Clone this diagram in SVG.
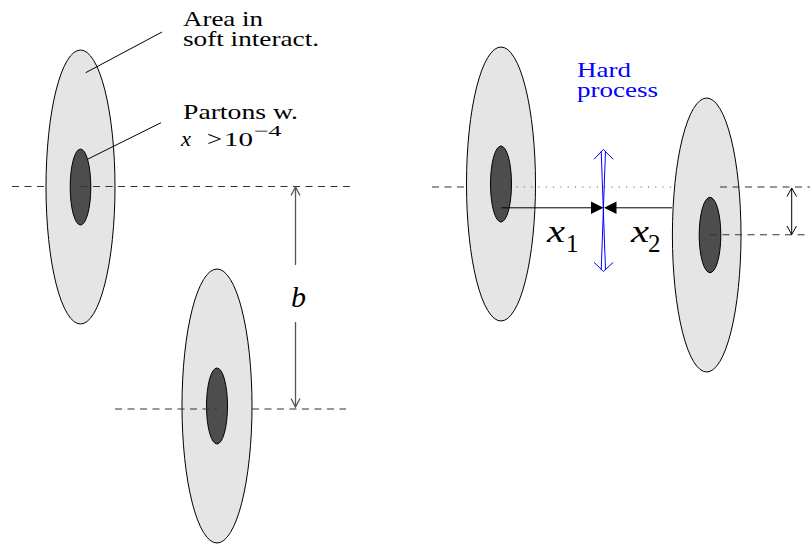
<svg xmlns="http://www.w3.org/2000/svg" width="810" height="544" viewBox="0 0 810 544">
<style>
.outer{fill:#e5e5e5;stroke:#000;stroke-width:1}
.inner{fill:#4d4d4d;stroke:#000;stroke-width:1}
.dash{stroke:#333;stroke-width:1.1;stroke-dasharray:7 5.5;fill:none}
.dot{stroke:#555;stroke-width:1;stroke-dasharray:1 6.3;fill:none}
.lead{stroke:#000;stroke-width:1;fill:none}
text{font-family:"Liberation Serif","Times New Roman",Times,serif}
.it{font-style:italic}
.blue{fill:#0000ff}
</style>
<rect width="810" height="544" fill="#fff"/>

<g id="proton-left-top">
  <line class="dash" x1="12" y1="186.5" x2="47" y2="186.5"/>
  <ellipse class="outer" cx="80.5" cy="187" rx="34.5" ry="137"/>
  <ellipse class="inner" cx="80.5" cy="187" rx="10.3" ry="38"/>
  <line class="dash" x1="80.5" y1="186.5" x2="350" y2="186.5"/>
</g>

<g id="proton-left-bottom">
  <ellipse class="outer" cx="217" cy="406" rx="35" ry="137"/>
  <ellipse class="inner" cx="217" cy="406" rx="10.5" ry="38"/>
  <line class="dash" x1="115" y1="409" x2="217" y2="409"/>
  <line class="dash" x1="252" y1="409" x2="346" y2="409"/>
</g>

<g id="proton-right-1">
  <line class="dash" x1="432" y1="187" x2="467" y2="187"/>
  <ellipse class="outer" cx="501" cy="184" rx="34.5" ry="137"/>
  <ellipse class="inner" cx="501" cy="184" rx="10.5" ry="38"/>
  <line class="dot" x1="502" y1="187" x2="672" y2="187"/>
</g>

<g id="proton-right-2">
  <ellipse class="outer" cx="706.7" cy="235" rx="34.3" ry="137"/>
  <ellipse class="inner" cx="710" cy="235" rx="10.8" ry="37.7"/>
  <line class="dash" x1="720" y1="187" x2="810" y2="187"/>
  <line class="dash" x1="710" y1="234.7" x2="810" y2="234.7"/>
</g>

<g id="labels" fill="#000">
  <text x="183" y="26" font-size="21" textLength="80" lengthAdjust="spacingAndGlyphs">Area in</text>
  <text x="183" y="46" font-size="21" textLength="136" lengthAdjust="spacingAndGlyphs">soft interact.</text>
  <text x="183" y="119" font-size="21" textLength="115" lengthAdjust="spacingAndGlyphs">Partons w.</text>
  <text class="it" x="181" y="146" font-size="22" textLength="10" lengthAdjust="spacingAndGlyphs">x</text>
  <text x="207" y="146" font-size="21" textLength="15" lengthAdjust="spacingAndGlyphs">&gt;</text>
  <text x="224" y="146" font-size="19" textLength="29" lengthAdjust="spacingAndGlyphs">10</text>
  <text x="253.5" y="136" font-size="15" textLength="28" lengthAdjust="spacingAndGlyphs">−4</text>
  <text class="it" x="291" y="307" font-size="30">b</text>
  <text class="blue" x="577" y="77" font-size="21" textLength="54" lengthAdjust="spacingAndGlyphs">Hard</text>
  <text class="blue" x="577" y="97" font-size="21" textLength="81" lengthAdjust="spacingAndGlyphs">process</text>
  <text class="it" x="547" y="242" font-size="32" textLength="18" lengthAdjust="spacingAndGlyphs">x</text>
  <text x="566" y="252" font-size="25">1</text>
  <text class="it" x="631" y="242" font-size="32" textLength="18" lengthAdjust="spacingAndGlyphs">x</text>
  <text x="648" y="252" font-size="25">2</text>
</g>

<g id="connectors">
  <line class="lead" x1="85.7" y1="72.7" x2="162" y2="32"/>
  <line class="lead" x1="88" y1="159" x2="161" y2="122.7"/>
  <g stroke="#555" stroke-width="1.3" fill="none">
    <line x1="295.5" y1="187" x2="295.5" y2="265"/>
    <line x1="295.5" y1="322" x2="295.5" y2="407"/>
    <polyline points="291,195.5 295.5,187 300,195.5"/>
    <polyline points="291,398.5 295.5,407 300,398.5"/>
  </g>
  <g stroke="#000" stroke-width="1" fill="none">
    <line x1="791.7" y1="188" x2="791.7" y2="234.5"/>
    <polyline points="787,196.5 791.7,188 796.5,196.5"/>
    <polyline points="787,226 791.7,234.5 796.5,226"/>
  </g>
  <line class="lead" x1="501.5" y1="207.8" x2="592" y2="207.8"/>
  <line class="lead" x1="616" y1="207.8" x2="672" y2="207.8"/>
  <polygon points="591,201.6 603.5,207.8 591,214" fill="#000"/>
  <polygon points="616.5,201.6 604,207.8 616.5,214" fill="#000"/>
  <g stroke="#0000ff" stroke-width="1" fill="none">
    <line x1="601.2" y1="151" x2="605.5" y2="270"/>
    <line x1="605.5" y1="151" x2="601.2" y2="270"/>
    <polyline points="594,159.3 603.4,149.5 613.3,159.3"/>
    <polyline points="594,262.3 603.4,271.5 613.3,262.3"/>
  </g>
</g>
</svg>
